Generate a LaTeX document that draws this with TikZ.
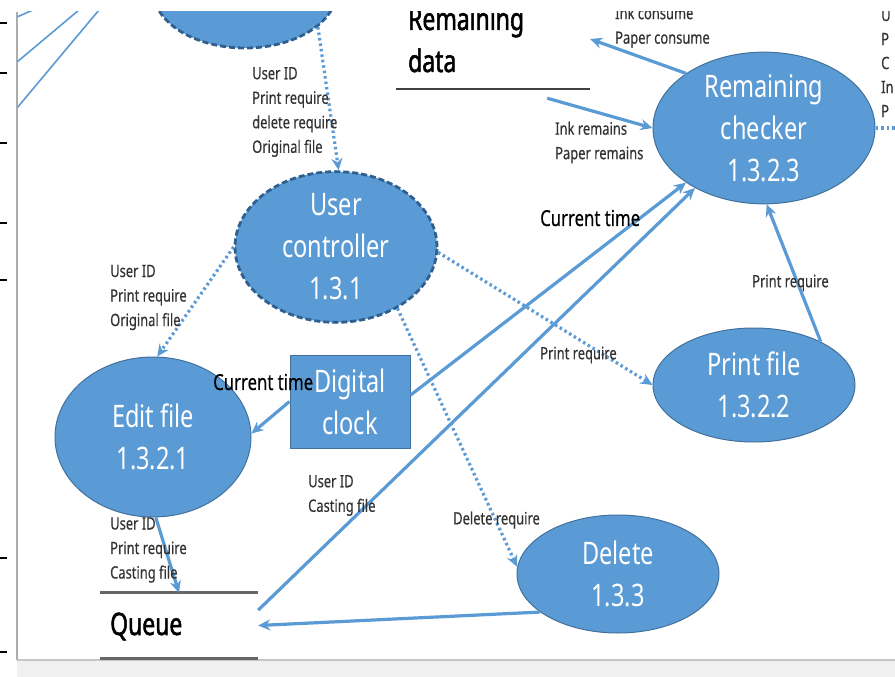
\documentclass[tikz,border=0pt]{standalone}
\usepackage{fontspec}
\setmainfont{Noto Sans}[FakeStretch=0.76]
\newfontfamily\heavyfam{Noto Sans}[FakeStretch=0.74, FakeBold=1.6]
\newfontfamily\labelfam{Noto Sans}[FakeStretch=0.76, FakeBold=0.4]
\usetikzlibrary{shapes.geometric,arrows.meta}
\definecolor{nodeblue}{HTML}{5B9BD5}
\definecolor{edgeblue}{HTML}{41719C}
\definecolor{dashblue}{HTML}{2F5F8F}
\definecolor{arrowblue}{HTML}{5B9BD5}
\definecolor{lblgray}{HTML}{333333}
\tikzset{
  proc/.style={ellipse, fill=nodeblue, draw=edgeblue, line width=1pt, inner sep=0pt,
    text=white, align=center, font=\fontsize{31}{42}\selectfont},
  dproc/.style={proc, draw=dashblue, line width=2.8pt, dash pattern=on 6pt off 3pt},
  flow/.style={draw=arrowblue, line width=3.2pt, -{Stealth[length=12pt,width=11pt]}},
  dflow/.style={draw=arrowblue, line width=3.2pt, dash pattern=on 2.5pt off 3pt,
    -{Stealth[length=12pt,width=11pt]}},
  lbl/.style={font=\labelfam\fontsize{17}{24.5}\selectfont, align=left, anchor=west,
    inner sep=0pt, text=lblgray},
  biglbl/.style={font=\labelfam\fontsize{22}{26}\selectfont, anchor=west, inner sep=0pt, text=black},
  storetext/.style={anchor=base west, inner sep=0pt, text=black, font=\heavyfam\fontsize{31}{40}\selectfont},
  store/.style={rectangle, inner sep=0pt, draw=none},
  storeline/.style={draw=gray!80!black, line width=3pt},
}
\begin{document}
\begin{tikzpicture}[x=1pt,y=-1pt]
\useasboundingbox (0,0) rectangle (895,677);
\fill[white] (0,0) rectangle (895,677);
\fill[gray!12] (17,660) rectangle (895,677);
\draw[gray!45, line width=1.2pt] (17,660) -- (895,660);
\draw[gray!65, line width=1.2pt] (17,12) -- (17,660);
\foreach \y in {23,73,143,223,280,558,652} \draw[black, line width=1.2pt] (0,\y) -- (7,\y);

\begin{scope}
\clip (17.7,12) rectangle (895,659);
% fragments at the top left
\draw[arrowblue, line width=1.6pt] (17,17) -- (33,10);
\draw[arrowblue, line width=1.6pt] (17,62) -- (79,10);
\draw[arrowblue, line width=1.6pt] (17,108) -- (99,10);

% processes
\node[dproc, minimum width=184pt, minimum height=116pt] (top) at (245,-10) {};
\node[dproc, minimum width=202pt, minimum height=150pt] (uc) at (336,247) {User\\controller\\1.3.1};
\node[proc, minimum width=196pt, minimum height=160pt] (edit) at (153,437) {Edit file\\1.3.2.1};
\node[proc, minimum width=222pt, minimum height=150pt] (chk) at (764,128) {Remaining\\checker\\1.3.2.3};
\node[proc, minimum width=202pt, minimum height=114pt] (print) at (754,385) {Print file\\1.3.2.2};
\node[proc, minimum width=202pt, minimum height=118pt] (del) at (618,574) {Delete\\1.3.3};
\node[rectangle, fill=nodeblue, draw=edgeblue, line width=1pt, minimum width=120pt,
  minimum height=93pt, inner sep=0pt, text=white, align=center,
  font=\fontsize{31}{42}\selectfont] (clock) at (350,401.5) {Digital\\clock};

% data stores
\node[store, minimum width=158pt, minimum height=65pt] (queue) at (179,625.5) {};
\draw[storeline] (queue.north west) -- (queue.north east);
\draw[storeline] (queue.south west) -- (queue.south east);
\node[storetext] (qtext) at (110,635) {Queue};

\node[store, minimum width=194pt, minimum height=100pt] (rdata) at (493,39) {};
\draw[draw=black!75, line width=2.2pt] (rdata.south west) -- (rdata.south east);
\node[storetext] (rdtext1) at (408,30) {Remaining};
\node[storetext] (rdtext2) at (408,72) {data};

% flows
\draw[dflow] (top.-27) -- (uc.88);
\draw[dflow] (uc.180) -- (edit.87);
\draw[dflow] (uc.-3) -- (print.180);
\draw[dflow] (uc.-45) -- (del.176);
\draw[flow] (chk.145) -- (rdata.east);
\draw[flow] ([xshift=-43pt,yshift=-9pt]rdata.south east) -- (chk.180);
\draw[flow] (clock.6) -- (chk.215);
\draw[flow] (queue.11) -- (chk.221);
\draw[flow] (print.33) -- (chk.272);
\draw[flow] (clock.west) -- (edit.2);
\draw[flow] (edit.-88) -- (queue.north);
\draw[flow] (del.206) -- (queue.east);
\coordinate (offright) at (905,128);
\draw[draw=arrowblue, line width=3.2pt, dash pattern=on 2.5pt off 3pt] (chk.0) -- (offright);

% labels
\node[lbl] (l1) at (252,112) {User ID\\Print require\\delete require\\Original file};
\node[lbl] (l2) at (110,297.5) {User ID\\Print require\\Original file};
\node[lbl] (l3) at (110,550) {User ID\\Print require\\Casting file};
\node[lbl] (l4) at (308,495.5) {User ID\\Casting file};
\node[lbl] (l5) at (540,355) {Print require};
\node[lbl] (l6) at (453,520) {Delete require};
\node[lbl] (l7) at (752,283) {Print require};
\node[lbl] (l8) at (555,142.5) {Ink remains\\Paper remains};
\node[lbl] (l9) at (615,27) {Ink consume\\Paper consume};
\node[lbl, font=\labelfam\fontsize{17}{24}\selectfont] (l10) at (881,63) {U\\P\\C\\In\\P};
\node[biglbl] (ct1) at (540,218) {Current time};
\node[biglbl] (ct2) at (213,382) {Current time};
\end{scope}
\end{tikzpicture}
\end{document}
